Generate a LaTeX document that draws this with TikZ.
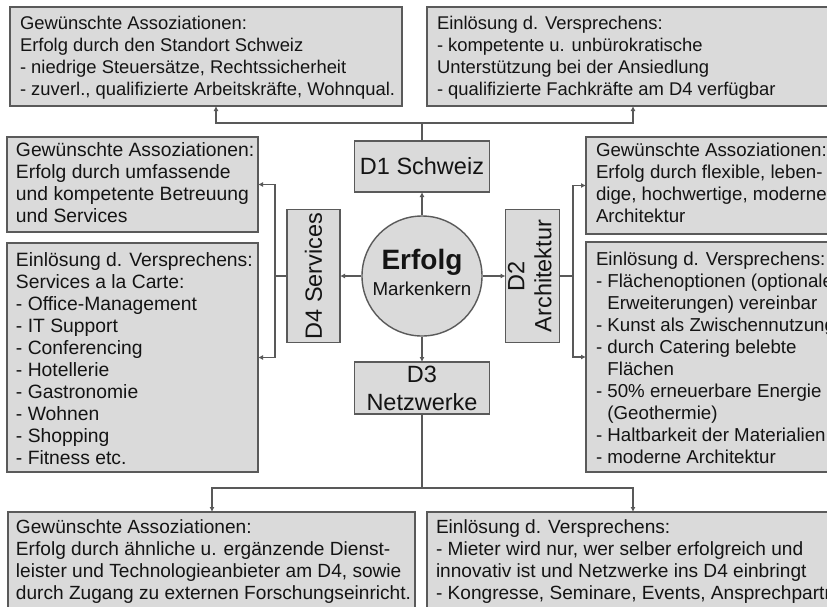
\documentclass[tikz,border=0pt]{standalone}
\usepackage{fontspec}
\setmainfont{Liberation Sans}
\usepackage{graphicx}
\usetikzlibrary{arrows.meta}
\newcommand{\bx}[4][18.4]{\parbox[c][#3][t]{#2}{\fontsize{#1}{22}\selectfont\begin{tabular}[t]{@{}l@{}}#4\end{tabular}}}
\definecolor{boxfill}{HTML}{DADADA}
\definecolor{boxline}{HTML}{5A5A5A}
\definecolor{txt}{HTML}{141414}
\tikzset{
  box/.style={draw=boxline, line width=1.4pt, fill=boxfill, anchor=north west, inner xsep=10pt, inner ysep=6pt, outer sep=0pt, text=txt},
  dbox/.style={draw=boxline, line width=1.4pt, fill=boxfill, inner sep=0pt, outer sep=0pt, text=txt, font=\fontsize{23.5}{28}\selectfont, align=center},
  conn/.style={draw=black!65, line width=1.1pt},
  arr/.style={conn, -{Latex[length=5pt,width=5pt]}},
}
\begin{document}
\begin{tikzpicture}[x=1pt,y=-1pt]
\useasboundingbox (0,0) rectangle (827,606);
\fill[white] (0,0) rectangle (827,606);
\clip (0,0) rectangle (827,606);

% outer boxes
\node[box, inner ysep=7pt] (tl) at (10,7) {\bx{372pt}{85pt}{Gewünschte Assoziationen:\\Erfolg durch den Standort Schweiz\\- niedrige Steuersätze, Rechtssicherheit\\- zuverl., qualifizierte Arbeitskräfte, Wohnqual.}};
\node[box, inner ysep=7pt] (tr) at (427,7) {\bx{413pt}{85pt}{Einlösung d. Versprechens:\\- kompetente u. unbürokratische\\Unterstützung bei der Ansiedlung\\- qualifizierte Fachkräfte am D4 verfügbar}};
\node[box, inner ysep=4pt, inner xsep=9pt] (lu) at (7,137) {\bx[19.3]{233pt}{87pt}{Gewünschte Assoziationen:\\Erfolg durch umfassende\\und kompetente Betreuung\\und Services}};
\node[box, inner ysep=8pt, inner xsep=9pt] (ll) at (7,243) {\bx[19.3]{233pt}{213pt}{Einlösung d. Versprechens:\\Services a la Carte:\\- Office-Management\\- IT Support\\- Conferencing\\- Hotellerie\\- Gastronomie\\- Wohnen\\- Shopping\\- Fitness etc.}};
\node[box, inner ysep=4pt] (ru) at (586,137) {\bx[18.7]{260pt}{89pt}{Gewünschte Assoziationen:\\Erfolg durch flexible, leben-\\dige, hochwertige, moderne\\Architektur}};
\node[box, inner ysep=8pt] (rl) at (586,242) {\bx[18.7]{260pt}{214pt}{Einlösung d. Versprechens:\\- Flächenoptionen (optionale\\\hphantom{- }Erweiterungen) vereinbar\\- Kunst als Zwischennutzung\\- durch Catering belebte\\\hphantom{- }Flächen\\- 50\% erneuerbare Energie\\\hphantom{- }(Geothermie)\\- Haltbarkeit der Materialien\\- moderne Architektur}};
\node[box, inner xsep=8pt] (bl) at (8,512) {\bx[19.1]{391pt}{108pt}{Gewünschte Assoziationen:\\Erfolg durch ähnliche u. ergänzende Dienst-\\leister und Technologieanbieter am D4, sowie\\durch Zugang zu externen Forschungseinricht.}};
\node[box, inner xsep=9pt] (br) at (427,512) {\bx[19.1]{415pt}{108pt}{Einlösung d. Versprechens:\\- Mieter wird nur, wer selber erfolgreich und\\innovativ ist und Netzwerke ins D4 einbringt\\- Kongresse, Seminare, Events, Ansprechpartn}};

% centre
\node[circle, draw=boxline, line width=1.4pt, fill=boxfill, minimum size=120pt, inner sep=0pt, text=txt] (c) at (422,276)
  {\raisebox{-8pt}{\fontsize{18.7}{23}\selectfont\begin{tabular}{@{}c@{}}{\fontsize{28}{30}\selectfont\bfseries Erfolg}\\[3pt]Markenkern\end{tabular}}};
\node[dbox, minimum width=135pt, minimum height=51pt] (d1) at (422,166.5) {D1 Schweiz};
\node[dbox, minimum width=135pt, minimum height=52pt] (d3) at (422,388) {D3\\Netzwerke};
\node[dbox, minimum width=53pt, minimum height=133pt] (d4) at (313.5,276) {\rotatebox{90}{D4 Services}};
\node[dbox, minimum width=51pt, minimum height=133pt] (d2) at (532.5,276) {\rotatebox{90}{\fontsize{23.5}{27}\selectfont\begin{tabular}{@{}c@{}}D2\\Architektur\end{tabular}}};

% centre arrows
\draw[arr] (c.north) -- (d1.south);
\draw[arr] (c.south) -- (d3.north);
\draw[arr] (c.west) -- (d4.east);
\draw[arr] (c.east) -- (d2.west);

% junctions
\coordinate (j1) at (422,123);
\coordinate (tlin) at (216,106);
\coordinate (trin) at (633,106);
\draw[conn] (d1.north) -- (j1);
\draw[arr] (j1) -| (tlin);
\draw[arr] (j1) -| (trin);

\coordinate (jl) at (275,276);
\draw[conn] (d4.west) -- (jl);
\draw[arr] (jl) |- (lu.east);
\draw[arr] (jl) |- (ll.east);

\coordinate (jr) at (573,276);
\draw[conn] (d2.east) -- (jr);
\draw[arr] (jr) |- (ru.west);
\draw[arr] (jr) |- (rl.west);

\coordinate (jb) at (422,488);
\coordinate (blin) at (212,512);
\coordinate (brin) at (633,512);
\draw[conn] (d3.south) -- (jb);
\draw[arr] (jb) -| (blin);
\draw[arr] (jb) -| (brin);
\end{tikzpicture}
\end{document}
